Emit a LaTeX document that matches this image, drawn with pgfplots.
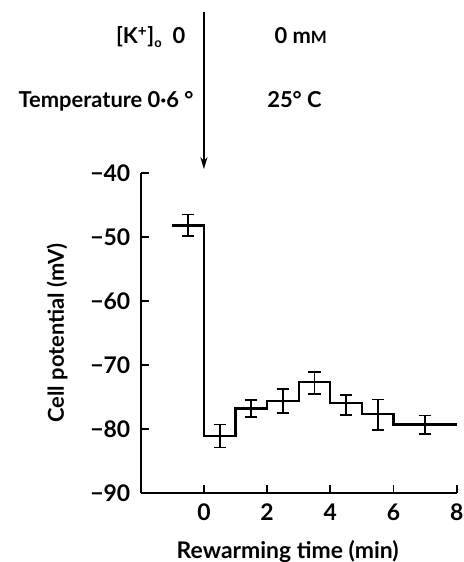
\documentclass[border=0pt]{standalone}
\usepackage{pgfplots}
\pgfplotsset{compat=1.18}
\usepackage{fontspec}
\setmainfont{Lato}[UprightFont=* Bold]
\usetikzlibrary{calc,arrows.meta}
\begin{document}
\fontsize{22}{26}\selectfont
\begin{tikzpicture}
\begin{axis}[name=ax,
  scale only axis, width=316bp, height=320bp,
  xmin=-2, xmax=8, ymin=-90, ymax=-40,
  axis x line=bottom, axis y line=left,
  axis line style={-, line width=2.3pt},
  xtick={0,2,4,6,8}, ytick={-90,-80,-70,-60,-50,-40},
  yticklabels={−90,−80,−70,−60,−50,−40},
  /pgf/number format/assume math mode=true,
  tick style={line width=2pt, black},
  tick align=inside, major tick length=8bp,
  tick label style={font=\fontsize{23}{26}\selectfont},
  xticklabel style={anchor=base, yshift=-27bp},
  yticklabel style={xshift=-3bp},
  xlabel={Rewarming time (min)},
  ylabel={Cell potential (mV)},
  label style={font=\fontsize{23}{26}\selectfont},
  xlabel style={at={(axis cs:2.65,-90)}, anchor=base, yshift=-65bp},
  ylabel style={font=\fontsize{22}{26}\selectfont, yshift=8bp},
  clip=false,
]
\addplot[const plot, line width=2.2pt, black] coordinates {
  (-1,-48.2) (0,-81.1) (1,-76.8) (2,-75.6) (3,-72.7) (4,-76.0) (5,-77.7) (6,-79.3) (8,-79.3)
};
\addplot[draw=none, mark=none,
  error bars/.cd, y dir=both, y explicit,
  error bar style={draw=black, line width=1.8pt},
  error mark=-,
  error mark options={draw=black, line width=1.8pt, mark size=6bp, rotate=90}]
  coordinates {
  (-0.5,-48.2) +- (0,1.7)
  (0.5,-81.1) +- (0,1.8)
  (1.5,-76.8) +- (0,1.3)
  (2.5,-75.65) +- (0,1.85)
  (3.5,-72.8) +- (0,1.7)
  (4.5,-76.25) +- (0,1.55)
  (5.5,-77.75) +- (0,2.35)
  (7,-79.35) +- (0,1.45)
};
\draw[line width=2pt, -{Stealth[length=12bp,width=7bp]}] (axis cs:0,-14.8) -- (axis cs:0,-39.4);
\node[anchor=base east, inner sep=0] at (axis cs:-0.58,-19.8) {[K\textsuperscript{+}]\raisebox{-0.3ex}{\fontsize{13}{13}\selectfont o}\enspace 0};
\node[anchor=base west, inner sep=0] at (axis cs:2.23,-19.8) {0 m{\fontsize{17}{17}\selectfont M}};
\node[anchor=base east, inner sep=0] at (axis cs:-0.32,-29.8) {Temperature 0·6 °};
\node[anchor=base west, inner sep=0] at (axis cs:2.0,-29.8) {25° C};
\end{axis}
\pgfresetboundingbox
\path ($(ax.south west)+(-140.7bp,-69bp)$) rectangle ($(ax.north east)+(7bp,173bp)$);
\end{tikzpicture}
\end{document}
